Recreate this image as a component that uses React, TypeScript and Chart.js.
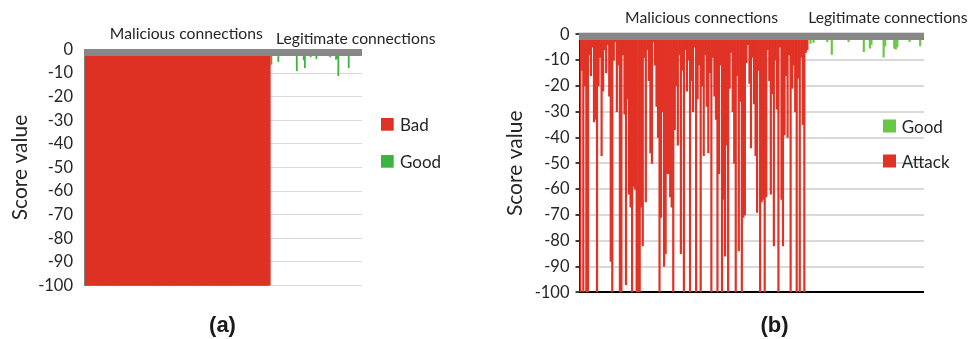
import React, { useEffect, useRef } from "react";
import { Chart, registerables } from "chart.js";

Chart.register(...registerables);

const FONT = "Lato, 'Open Sans', 'DejaVu Sans', sans-serif";
const CAPTION_FONT = "'Liberation Sans', Arial, sans-serif";

// ---------- data ----------
const Y_TICKS = [0, -10, -20, -30, -40, -50, -60, -70, -80, -90, -100];
const Y_TITLE = "Score value";
const TOP_LABELS = ["Malicious connections", "Legitimate connections"];
const CAPTIONS = ["(a)", "(b)"];
const SERIES_A = ["Bad", "Good"];
const SERIES_B = ["Good", "Attack"];

// panel (a): every malicious connection scored -100
const A_BAD_SCORE = -100;
const A_BAD_COUNT = 160;
const A_GOOD = [
  -1, -6.3, -1, -1, -1, -1, -1, -5.2, -1, -1,
  -1, -1, -1, -1, -1, -1, -1, -1, -1, -1,
  -1, -1, -1, -9.0, -1, -1, -1, -1, -1, -4.4,
  -7.7, -1, -1, -1, -1, -3.1, -1, -1, -1, -1,
  -3.9, -1, -1, -1, -1, -1, -1, -1, -1, -1,
  -1, -1, -3.1, -1, -1, -1, -1, -4.2, -3.7, -11.1,
  -1, -1, -1, -1, -1, -1, -1, -1, -7.7, -1,
  -1, -1, -1, -1, -1, -1, -1, -1, -1, -1,
];

// panel (b)
const B_ATTACK = [
  -100, -14, -100, -20, -100, -100, -8, -16, -5, -34,
  -33, -100, -20, -9, -47, -22, -6, -15, -4, -24,
  -88, -100, -10, -3, -30, -12, -100, -100, -8, -31,
  -97, -25, -62, -67, -100, -59, -60, -100, -100, -100,
  -67, -82, -9, -65, -6, -18, -46, -50, -3, -12,
  -28, -40, -100, -71, -30, -90, -85, -54, -54, -63,
  -67, -100, -37, -20, -43, -8, -85, -14, -100, -6,
  -22, -10, -100, -18, -30, -5, -100, -25, -12, -100,
  -20, -47, -8, -28, -46, -15, -100, -9, -24, -33,
  -100, -54, -12, -100, -64, -86, -43, -100, -21, -7,
  -30, -50, -100, -16, -84, -26, -100, -71, -70, -11,
  -4, -19, -44, -9, -27, -47, -69, -14, -100, -65,
  -64, -100, -63, -6, -18, -62, -23, -82, -10, -29,
  -100, -5, -64, -82, -39, -16, -40, -8, -100, -21,
  -12, -30, -100, -17, -100, -9, -35, -100, -7, -6,
];
const B_GOOD = [
  -1, -3.5, -1, -3.1, -1, -1, -1, -1, -1, -1,
  -1, -1, -2.9, -1, -1, -7.8, -1, -1, -1, -1,
  -1, -1, -1, -1, -1, -1, -2.9, -1, -1, -1,
  -1, -1, -1, -1, -1, -1, -6.7, -1, -1, -1,
  -5.4, -4.0, -1, -1, -1, -1, -1, -1, -1, -8.9,
  -4.5, -1, -1, -1, -1, -1, -5.4, -5.8, -4.9, -1,
  -1, -1, -1, -1, -1, -1, -2.9, -1, -1, -1,
  -1, -1, -1, -4.5, -1, -1,
];

// ---------- styles ----------
const RED_A = "#DE3224";
const GREEN_A = "#3CB540";
const RED_B = "#E03225";
const GREEN_B = "#68C846";
const BAND = "#878787";
const GRID = "#d9d9d9";
const TEXT = "#262626";

const decorPlugin = {
  id: "decor",
  afterDatasetsDraw(chart: any, _a: any, o: any) {
    const { ctx, chartArea } = chart;
    const y0 = chart.scales.y.getPixelForValue(0);
    ctx.save();
    ctx.fillStyle = o.band.color;
    ctx.fillRect(
      chartArea.left + o.band.dx,
      y0 + o.band.dy,
      chartArea.right - chartArea.left - o.band.dx,
      o.band.h
    );
    ctx.restore();
  },
  afterDraw(chart: any, _a: any, o: any) {
    const { ctx, chartArea } = chart;
    const xs = chart.scales.x;
    const nBad = o.badCount;
    const half = (xs.getPixelForValue(1) - xs.getPixelForValue(0)) / 2;
    const badStart = xs.getPixelForValue(0) - half;
    const boundary = xs.getPixelForValue(nBad - 1) + half;
    ctx.save();
    ctx.fillStyle = TEXT;
    ctx.textBaseline = "alphabetic";
    // top annotations
    ctx.font = `${o.top.size}px ${FONT}`;
    ctx.textAlign = "center";
    ctx.fillText(TOP_LABELS[0], (badStart + boundary) / 2 + o.top.malDx, o.top.malY);
    ctx.textAlign = "left";
    ctx.fillText(TOP_LABELS[1], boundary + o.top.legDx, o.top.legY);
    // legend
    const lg = o.legend;
    ctx.font = `${lg.size}px ${FONT}`;
    chart.data.datasets.forEach((ds: any, i: number) => {
      const t = lg.top + i * lg.spacing;
      ctx.fillStyle = ds.backgroundColor;
      ctx.fillRect(lg.left, t, lg.box, lg.box);
      ctx.fillStyle = TEXT;
      ctx.fillText(ds.label, lg.left + lg.box + lg.gap, t + lg.box + lg.textDy);
    });
    // caption
    ctx.font = `bold 22px ${CAPTION_FONT}`;
    ctx.fillStyle = "#1a1a1a";
    ctx.textAlign = "center";
    ctx.fillText(o.caption.text, (chartArea.left + chartArea.right) / 2 + o.caption.dx, o.caption.y);
    ctx.restore();
  },
};

function makeOptions(p: any) {
  return {
    animation: false,
    responsive: false,
    devicePixelRatio: 1,
    layout: { padding: { left: 0, right: p.padRight, top: p.padTop, bottom: p.padBottom } },
    datasets: {
      bar: { grouped: false, barPercentage: 1, categoryPercentage: 1, borderWidth: 0 },
    },
    scales: {
      x: { display: false },
      y: {
        min: -100,
        max: 0,
        afterFit: (s: any) => {
          s.width = p.axisWidth;
        },
        afterBuildTicks: (s: any) => {
          s.ticks = Y_TICKS.map((v) => ({ value: v }));
        },
        border: { display: true, color: p.axisColor, width: 2 },
        grid: {
          color: p.gridColor,
          lineWidth: p.gridWidth,
          drawTicks: p.drawTicks,
          tickLength: 4,
          tickColor: "#000",
          tickWidth: 1.5,
        },
        ticks: { font: { family: FONT, size: 16.5 }, color: TEXT, padding: p.tickPad },
        title: {
          display: true,
          text: Y_TITLE,
          font: { family: FONT, size: 21 },
          color: TEXT,
          padding: { top: p.titlePad, bottom: 0 },
        },
      },
    },
    plugins: {
      legend: { display: false },
      tooltip: { enabled: false },
      decor: p.decor,
    },
  };
}

function configA() {
  const bad = Array(A_BAD_COUNT).fill(A_BAD_SCORE);
  const n = bad.length + A_GOOD.length;
  const labels = Array.from({ length: n }, (_, i) => String(i + 1));
  return {
    type: "bar",
    data: {
      labels,
      datasets: [
        { label: SERIES_A[0], data: [...bad, ...A_GOOD.map(() => null)], backgroundColor: RED_A, inflateAmount: 1 },
        { label: SERIES_A[1], data: [...bad.map(() => null), ...A_GOOD], backgroundColor: GREEN_A },
      ],
    },
    options: makeOptions({
      padRight: 124,
      padTop: 49.5,
      padBottom: 53.5,
      axisWidth: 85,
      axisColor: "#7f7f7f",
      gridColor: GRID,
      gridWidth: 1,
      drawTicks: false,
      tickPad: 12,
      titlePad: 7.8,
      decor: {
        badCount: A_BAD_COUNT,
        band: { color: BAND, dx: -1, dy: -0.5, h: 7 },
        top: { size: 15.7, malDx: 9, malY: 38.5, legDx: 6.3, legY: 43.5 },
        legend: { left: 381, top: 118, spacing: 37, box: 12.7, gap: 6.3, size: 17, textDy: 0 },
        caption: { text: CAPTIONS[0], dx: -1, y: 332 },
      },
    }),
    plugins: [decorPlugin],
  };
}

function configB() {
  const n = B_ATTACK.length + B_GOOD.length;
  const labels = Array.from({ length: n }, (_, i) => String(i + 1));
  return {
    type: "bar",
    data: {
      labels,
      datasets: [
        { label: SERIES_B[0], data: [...B_ATTACK.map(() => null), ...B_GOOD], backgroundColor: GREEN_B },
        { label: SERIES_B[1], data: [...B_ATTACK, ...B_GOOD.map(() => null)], backgroundColor: RED_B },
      ],
    },
    options: makeOptions({
      padRight: 48,
      padTop: 34.3,
      padBottom: 46.7,
      axisWidth: 93.5,
      axisColor: "#000",
      gridColor: (c: any) => (c.tick && c.tick.value === -100 ? "#000" : GRID),
      gridWidth: 2,
      drawTicks: true,
      tickPad: 6,
      titlePad: 16.8,
      decor: {
        badCount: B_ATTACK.length,
        band: { color: BAND, dx: -0.5, dy: -1.6, h: 7.3 },
        top: { size: 15.7, malDx: 7.7, malY: 22.7, legDx: 0, legY: 22.7 },
        legend: { left: 397, top: 119.5, spacing: 35, box: 13, gap: 5.7, size: 17, textDy: 0 },
        caption: { text: CAPTIONS[1], dx: 22.75, y: 332 },
      },
    }),
    plugins: [decorPlugin],
  };
}

function ChartBox({ left, make }: { left: number; make: () => any }) {
  const ref = useRef<HTMLCanvasElement>(null);
  useEffect(() => {
    const chart = new Chart(ref.current as HTMLCanvasElement, make());
    return () => chart.destroy();
  }, []);
  return (
    <div style={{ position: "absolute", left, top: 0, width: 486, height: 339 }}>
      <canvas ref={ref} width={486} height={339} style={{ display: "block", width: 486, height: 339 }} />
    </div>
  );
}

export default function App() {
  return (
    <div
      style={{
        position: "fixed",
        left: 0,
        top: 0,
        width: 972,
        height: 339,
        background: "#fff",
        overflow: "hidden",
      }}
    >
      <ChartBox left={0} make={configA} />
      <ChartBox left={486} make={configB} />
    </div>
  );
}
